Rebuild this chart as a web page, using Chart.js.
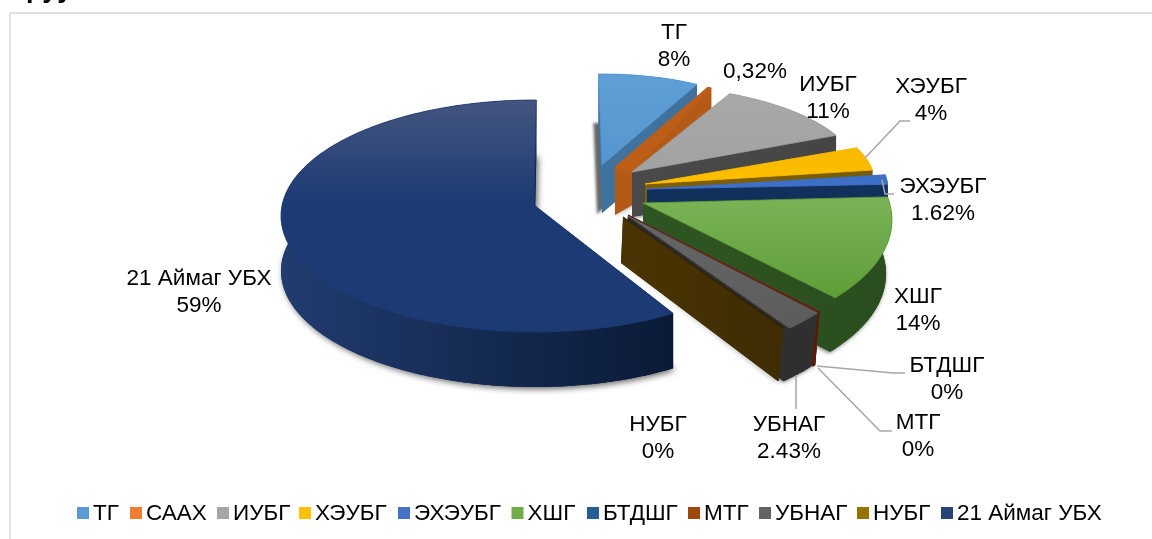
<!DOCTYPE html>
<html><head><meta charset="utf-8">
<script src="https://cdn.jsdelivr.net/npm/chart.js@4"></script>
<style>html,body{margin:0;padding:0;background:#fff}canvas{display:block}</style>
</head><body><canvas id="c" width="1152" height="539"></canvas>
<script>
const categories=["ТГ","СААХ","ИУБГ","ХЭУБГ","ЭХЭУБГ","ХШГ","БТДШГ","МТГ","УБНАГ","НУБГ","21 Аймаг УБХ"];
const values=[8,0.32,11,4,1.62,14,0.02,0.2,2.43,0.1,59];
const percentLabels=["8%","0,32%","11%","4%","1.62%","14%","0%","0%","2.43%","0%","59%"];
const legendColors=["#5b9bd5","#ed7d31","#a5a5a5","#ffc000","#4472c4","#70ad47","#255e91","#9e480e","#636363","#997300","#264478"];
const titleFragment="руу";

// 3D projection of each slice (apex, rim ellipse, rotation, extrusion, shadow offset)
const geometry=[
 {a:[602,165],c:[602,165],rx:205,ry:91,rot:-1,d:48,shX:-5,shB:3},
 {a:[615,167],b:[632,173],c:[615,167],rx:194,ry:91,rot:0,d:48,dB:32},
 {a:[632,172],c:[632,172],rx:225,ry:87,rot:-4,d:45},
 {a:[645,184],c:[645,184],rx:230,ry:93,rot:-2,d:45},
 {a:[647,189],c:[647,189],rx:241,ry:95,rot:-2,d:45},
 {a:[643,203],c:[640,220],rx:252,ry:123,rot:-10,d:54,sx:-6},
 {a:[628,215],c:[628,216],rx:255,ry:145,rot:-8,dA:46,d:55,sxA:-2,sx:-5},
 {a:[628,215],c:[628,216],rx:255,ry:145,rot:-8,dA:46,d:55,sxA:-2,sx:-5},
 {a:[628,216],c:[628,216],rx:255,ry:145,rot:-8,dA:46,d:55,sxA:-2,sx:-7},
 {a:[623,217],c:[623,217],rx:253,ry:142,rot:-8,dA:46,d:56,sxA:-2,sx:-5},
 {a:[534,205],c:[535,216],rx:254,ry:116,rot:-2,rotE:0.3,d:55,shX:2,shY:2,shB:6}
];
const topShade=[["#5f9fd8","#5596d0"],["#bd5e18","#bd5e18"],["#a8a8a8","#a2a2a2"],["#f6b800","#ffc000"],["#3f70c8","#3f70c8"],["#7ab356","#5e9e38"],["#255e91","#255e91"],["#6b1d00","#6b1d00"],["#666666","#5c5c5c"],["#33280a","#2c2208"],["#44557f","#1c3a74"]];
const wallShade=[["#3f739f","#41719c"],["#b55a16","#b55a16"],["#4a4a4a","#454545"],["#7f6000","#7a5c00"],["#12305c","#12305c"],["#2f5622","#2a4d1d"],["#1a4468","#1a4468"],["#6b1d00","#5e1a00"],["#2b2b2b","#303030"],["#4a3404","#3f2c03"],["#213c70","#0a1a36"]];
const topFadeStop=[1,1,1,1,1,1,1,1,1,1,0.45];
const drawOrder=[10,0,1,2,3,4,5,6,7,8,9];

const labelCenters=[[674,33],[755,72],[828,85],[931,87],[943,187],[918,297],[947,366],[918,423],[789,425],[658,425],[199,279]];
const labelLine=27;
const leaderLines=[
 [[910,121],[900,121],[865,158]],
 [[894,194],[885,194],[882,180]],
 [[905,373],[893,373],[817,366]],
 [[892,431],[880,431],[818,368]],
 [[796,409],[796,375]]
];
const legendX=[77,130,217,299,398,511.5,587,688,759,857,941];
const FONT='22.5px "Liberation Sans", Arial, sans-serif';

function rimPt(g,th,f){const r=g.rot+((g.rotE??g.rot)-g.rot)*f,p=(th+r)*Math.PI/180;return [g.c[0]+g.rx*Math.sin(p),g.c[1]-g.ry*Math.cos(p)];}
function under(g,P){
 const t=Math.min(1,Math.hypot(P[0]-g.a[0],P[1]-g.a[1])/g.rx);
 const dA=g.dA??g.d,sxA=g.sxA??0,sx=g.sx??0;
 return [P[0]+sxA+(sx-sxA)*t,P[1]+dA+(g.d-dA)*t];
}
function poly(ctx,pts){ctx.beginPath();pts.forEach((p,i)=>i?ctx.lineTo(p[0],p[1]):ctx.moveTo(p[0],p[1]));ctx.closePath();}

const pie3d={
 id:'pie3d',
 beforeDraw(chart){
  const ctx=chart.ctx;ctx.save();
  ctx.fillStyle='#fff';ctx.fillRect(0,0,1152,539);
  ctx.strokeStyle='#e0e0e0';ctx.lineWidth=2;
  ctx.beginPath();ctx.moveTo(10,539);ctx.lineTo(10,13);ctx.lineTo(1152,13);ctx.stroke();
  ctx.fillStyle='#000';ctx.font='bold 27px "Liberation Sans", Arial, sans-serif';ctx.textAlign='left';ctx.textBaseline='alphabetic';
  ctx.fillText(titleFragment,26,-3);
  ctx.restore();
 },
 beforeDatasetDraw(chart){
  const ctx=chart.ctx,arcs=chart.getDatasetMeta(0).data;
  ctx.save();
  for(const i of drawOrder){
   const g=geometry[i],arc=arcs[i];
   const s=(arc.startAngle+Math.PI/2)*180/Math.PI,e=(arc.endAngle+Math.PI/2)*180/Math.PI;
   const n=Math.max(2,Math.ceil(e-s));
   const rim=[];for(let k=0;k<=n;k++)rim.push(rimPt(g,s+(e-s)*k/n,k/n));
   const A=g.a,B=g.b||g.a;
   const uA=under(g,A);
   const uB=g.dB?[B[0],B[1]+g.dB]:under(g,B);
   const uRim=rim.map(p=>under(g,p));
   const xs=rim.concat([A]).map(p=>p[0]),ys=rim.concat([A]).map(p=>p[1]);
   const x0=Math.min(...xs),x1=Math.max(...xs),y0=Math.min(...ys),y1=Math.max(...ys);
   const wg=ctx.createLinearGradient(x0,0,Math.max(x1,x0+1),0);wg.addColorStop(0,wallShade[i][0]);wg.addColorStop(1,wallShade[i][1]);
   const tg=ctx.createLinearGradient(0,y0,0,Math.max(y1,y0+1));tg.addColorStop(0,topShade[i][0]);tg.addColorStop(topFadeStop[i],topShade[i][1]);
   // floor, carries the soft shadow
   ctx.save();
   ctx.shadowColor='rgba(50,50,50,0.75)';ctx.shadowBlur=g.shB??4;ctx.shadowOffsetX=g.shX??-1;ctx.shadowOffsetY=g.shY??1;
   ctx.fillStyle=wg;poly(ctx,[uA,...uRim,uB]);ctx.fill();
   ctx.restore();
   ctx.fillStyle=wg;
   poly(ctx,[...rim,...uRim.slice().reverse()]);ctx.fill();
   poly(ctx,[A,rim[0],uRim[0],uA]);ctx.fill();
   poly(ctx,[B,rim[n],uRim[n],uB]);ctx.fill();
   poly(ctx,[A,B,uB,uA]);ctx.fill();
   // top face
   ctx.fillStyle=tg;ctx.strokeStyle=topShade[i][1];ctx.lineWidth=0.8;
   poly(ctx,[A,...rim,B]);ctx.fill();ctx.stroke();
  }
  ctx.restore();
  return false;
 },
 afterDatasetsDraw(chart){
  const ctx=chart.ctx;ctx.save();
  ctx.strokeStyle='#a6a6a6';ctx.lineWidth=1.5;
  for(const l of leaderLines){ctx.beginPath();l.forEach((p,i)=>i?ctx.lineTo(p[0],p[1]):ctx.moveTo(p[0],p[1]));ctx.stroke();}
  ctx.fillStyle='#000';ctx.font=FONT;ctx.textAlign='center';ctx.textBaseline='middle';
  categories.forEach((c,i)=>{
   const [x,y]=labelCenters[i];
   if(i===1){ctx.fillText(percentLabels[i],x,y);return;}
   ctx.fillText(c,x,y);ctx.fillText(percentLabels[i],x,y+labelLine);
  });
  ctx.textAlign='left';
  categories.forEach((c,i)=>{
   ctx.fillStyle=legendColors[i];ctx.fillRect(legendX[i],507,12,12);
   ctx.fillStyle='#000';ctx.fillText(c,legendX[i]+16,514);
  });
  ctx.restore();
 }
};
new Chart(document.getElementById('c'),{
 type:'pie',
 data:{labels:categories,datasets:[{data:values,backgroundColor:legendColors}]},
 options:{responsive:false,animation:false,plugins:{legend:{display:false},tooltip:{enabled:false},title:{display:false}}},
 plugins:[pie3d]
});
</script></body></html>
